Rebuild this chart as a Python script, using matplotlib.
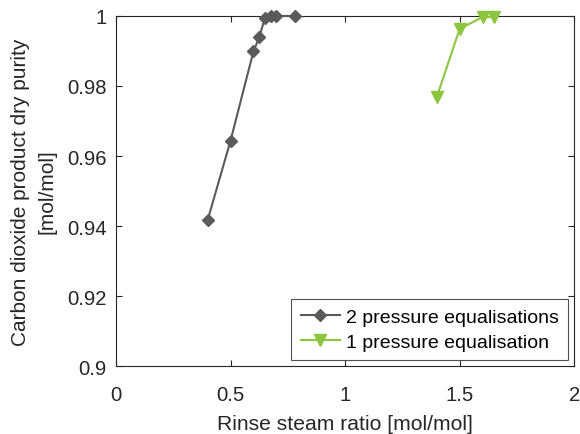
import numpy as np
import matplotlib.pyplot as plt

plt.rcParams['font.family'] = ['Liberation Sans', 'DejaVu Sans']

# Two pressure equalisations
steam_2pe = [0.4, 0.5, 0.6, 0.625, 0.65, 0.675, 0.7, 0.78]
purity_2pe = [0.9417, 0.9644, 0.9899, 0.9939, 0.9994, 1.0, 1.0, 1.0]

# One pressure equalisation
steam_1pe = [1.4, 1.5, 1.6, 1.65]
purity_1pe = [0.9768, 0.9963, 0.9997, 0.9997]

x_ticks = [0, 0.5, 1, 1.5, 2]
x_labels = ['0', '0.5', '1', '1.5', '2']
y_ticks = [0.9, 0.92, 0.94, 0.96, 0.98, 1.0]
y_labels = ['0.9', '0.92', '0.94', '0.96', '0.98', '1']

axis_col = '#262626'

fig = plt.figure(figsize=(5.8, 4.35), dpi=100)
ax = fig.add_axes([0.2, 0.156, 0.79, 0.805])

ax.plot(steam_2pe, purity_2pe, color='#5a5a5a', marker='D', markersize=6.5,
        linewidth=1.5, label='2 pressure equalisations', clip_on=False, zorder=3)
ax.plot(steam_1pe, purity_1pe, color='#8cc63f', marker='v', markersize=8.5,
        linewidth=1.5, label='1 pressure equalisation', clip_on=False, zorder=3)

ax.set_xlim(0, 2)
ax.set_ylim(0.9, 1.0)
ax.set_xticks(x_ticks)
ax.set_xticklabels(x_labels)
ax.set_yticks(y_ticks)
ax.set_yticklabels(y_labels)

ax.tick_params(direction='in', length=4, width=0.8, top=True, right=True,
               labelsize=14.6, colors=axis_col)
ax.tick_params(axis='x', pad=13.5)
ax.tick_params(axis='y', pad=6.5)
for s in ax.spines.values():
    s.set_color(axis_col)
    s.set_linewidth(0.8)

ax.set_xlabel('Rinse steam ratio [mol/mol]', fontsize=15.2, color=axis_col, labelpad=7)
ax.set_ylabel('Carbon dioxide product dry purity\n[mol/mol]', fontsize=15,
              color=axis_col, labelpad=8, linespacing=1.5)

leg = ax.legend(loc='lower right', fontsize=14, frameon=True, fancybox=False,
                edgecolor=axis_col, borderaxespad=0.3, handlelength=2.0,
                handletextpad=0.3, borderpad=0.5, labelspacing=0.35)
leg.get_frame().set_linewidth(0.8)

fig.savefig('out.png', dpi=100)
